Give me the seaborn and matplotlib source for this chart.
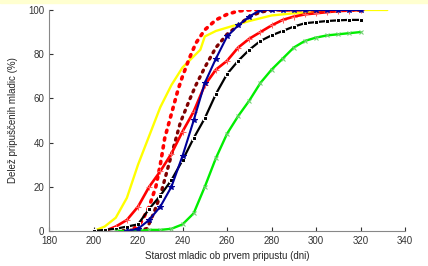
import numpy as np
import pandas as pd
import matplotlib
matplotlib.use("Agg")
import matplotlib.pyplot as plt
import seaborn as sns

# age at first mating (days) vs cumulative share of mated heifers (%)
yellow_x = [200, 205, 210, 215, 220, 225, 230, 235, 240, 245, 248, 250, 255, 260, 270, 280, 290, 300, 310, 320, 332]
yellow_y = [0, 2, 6, 15, 30, 43, 56, 66, 74, 79, 82, 88, 90.5, 92, 95, 97.5, 98.5, 99, 99.5, 100, 100]

reddot_x = [215, 220, 222, 225, 228, 230, 232, 235, 238, 240, 243, 246, 250, 255, 260, 265, 270, 280, 300, 320]
reddot_y = [0, 2, 5, 11, 20, 30, 42, 53, 64, 70, 78, 85, 91, 95.5, 98, 99.5, 100, 100, 100, 100]

maroon_x = [210, 220, 224, 227, 230, 233, 236, 239, 243, 246, 250, 255, 260, 265, 270, 275, 280, 300, 320]
maroon_y = [0, 0.5, 1, 8, 16, 27, 38, 49, 59, 66, 74, 83, 89, 93, 97, 99, 100, 100, 100]

days = [205, 210, 215, 220, 225, 230, 235, 240, 245, 250, 255, 260, 265, 270, 275,
        280, 285, 290, 295, 300, 305, 310, 315, 320]
red_y = [0, 2, 5, 11, 20, 27, 35, 45, 54, 66, 73, 77, 83, 87, 90,
         93, 95.5, 97, 98, 98.5, 99, 99.5, 99.7, 100]

black_x = [200] + days
black_y = [0, 0.5, 1, 2, 3, 10, 16, 23, 32, 42, 51, 62, 71, 77, 82, 86,
           88.5, 90.5, 92.5, 94, 94.5, 95, 95.3, 95.5, 95.5]

green_x = days[1:]
green_y = [0, 0, 0, 0.5, 0.5, 1, 3, 8, 20, 33, 44, 52, 59, 67, 73,
           78, 83, 86, 87.5, 88.5, 89, 89.5, 90]

blue_x = days[2:]
blue_y = [0, 1, 5, 11, 20, 34, 50, 67, 78, 88, 93, 97, 100,
          100, 100, 100, 100, 100, 100, 100, 100, 100]

sns.set_style("ticks")
plt.rcParams["font.family"] = ["Liberation Sans", "DejaVu Sans"]

fig = plt.figure(figsize=(4.28, 2.66), dpi=100)
ax = fig.add_axes([0.1145, 0.1316, 0.832, 0.831])

dots = (0, (0.6, 1.6))
sns.lineplot(x=yellow_x, y=yellow_y, color="#ffff00", lw=1.7, ax=ax)
sns.lineplot(x=reddot_x, y=reddot_y, color="#ff0000", lw=2.6, ax=ax,
             linestyle=dots, dash_capstyle="round")
sns.lineplot(x=maroon_x, y=maroon_y, color="#800000", lw=2.4, ax=ax,
             linestyle=dots, dash_capstyle="round")
sns.lineplot(x=days, y=red_y, color="#ff0000", lw=1.9, ax=ax,
             marker="+", markersize=4, markeredgecolor="#ff6060")
sns.lineplot(x=black_x, y=black_y, color="black", lw=1.6, ax=ax,
             marker="s", markersize=3.5)
sns.lineplot(x=green_x, y=green_y, color="#00ee00", lw=1.7, ax=ax,
             marker="x", markersize=3, markeredgecolor="#70d070")
sns.lineplot(x=blue_x, y=blue_y, color="#000099", lw=1.5, ax=ax,
             marker="*", markersize=4, markeredgecolor="#000099")

ax.set_xlim(180, 340)
ax.set_ylim(0, 100)
ax.set_xticks(range(180, 341, 20))
ax.set_yticks(range(0, 101, 20))
ax.tick_params(direction="in", length=3, labelsize=7, colors="#333333")
sns.despine(ax=ax)
for s in ["left", "bottom"]:
    ax.spines[s].set_color("#888888")
    ax.spines[s].set_linewidth(0.8)

ax.set_xlabel("Starost mladic ob prvem pripustu (dni)", fontsize=7, labelpad=4)
ax.set_ylabel("Delež pripuščenih mladic (%)", fontsize=7, labelpad=7)

# thin yellow strip at the top edge of the original picture
fig.patches.append(plt.Rectangle((0, 0.99), 1, 0.01, transform=fig.transFigure,
                                 color="#ffffd0", zorder=0))

fig.savefig("out.png", dpi=100)
